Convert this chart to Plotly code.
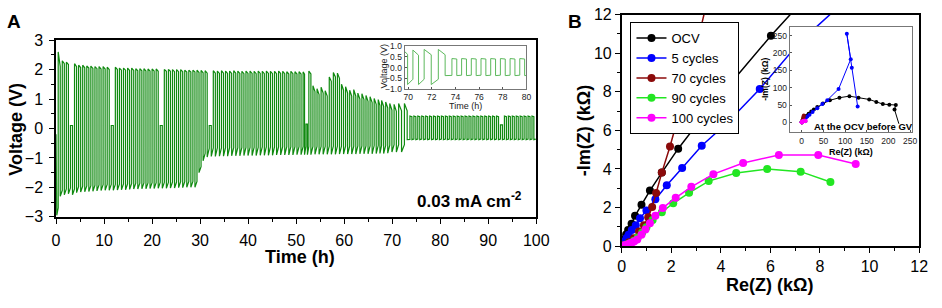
import plotly.graph_objects as go

W, H = 942, 308
FONT = "Liberation Sans, Arial, Helvetica, sans-serif"

# ---------------- Panel A : galvanostatic cycling (voltage vs time) ----------------
init_t = [0.0, 0.15, 0.45]
init_v = [-0.2, -2.95, -2.7]

# region 1 (0-29 h)
r1_t = [0.45, 1.3, 2.15, 3.0, 3.85, 4.7, 5.55, 6.4, 7.25, 8.1, 8.95, 9.8, 10.65, 11.5, 12.35, 13.2, 14.05,
        14.9, 15.75, 16.6, 17.45, 18.3, 19.15, 20.0, 20.85, 21.7, 22.55, 23.4, 24.25, 25.1, 25.95, 26.8, 27.65, 28.5]
r1_hi = [2.6, 2.3, 2.25, 0.1, 2.2, 2.15, 2.15, 2.12, 2.12, 2.1, 2.1, 2.1, 2.08, 0.1, 2.08, 2.05, 2.05,
         2.05, 2.05, 2.03, 2.03, 2.03, 2.02, 2.02, 2.02, 0.1, 2.0, 2.0, 2.0, 2.0, 2.0, 1.98, 1.98, 1.98]
r1_hi_end = [2.1, 2.2, 2.17, 0.1, 2.1, 2.07, 2.06, 2.05, 2.04, 2.03, 2.02, 2.02, 2.0, 0.1, 2.0, 1.98, 1.98,
             1.97, 1.97, 1.96, 1.96, 1.95, 1.95, 1.95, 1.94, 0.1, 1.94, 1.94, 1.93, 1.93, 1.93, 1.92, 1.92, 1.92]
r1_lo = [-2.3, -2.25, -2.22, -2.25, -2.18, -2.16, -2.15, -2.14, -2.13, -2.12, -2.11, -2.1, -2.1, -2.1, -2.09,
         -2.08, -2.08, -2.07, -2.06, -2.06, -2.05, -2.05, -2.04, -2.04, -2.03, -2.03, -2.03, -2.02, -2.02,
         -2.01, -2.01, -2.0, -2.0, -2.0]
r1_lo_end = [-2.1, -2.05, -2.02, -2.05, -1.98, -1.96, -1.95, -1.94, -1.93, -1.92, -1.91, -1.9, -1.9, -1.9,
             -1.89, -1.88, -1.88, -1.87, -1.86, -1.86, -1.85, -1.85, -1.84, -1.84, -1.83, -1.83, -1.83,
             -1.82, -1.82, -1.81, -1.81, -1.8, -1.8, -1.8]

# region 2 (29-73 h)
r2_t = [29.35, 30.2, 31.05, 31.9, 32.75, 33.6, 34.45, 35.3, 36.15, 37.0, 37.85, 38.7, 39.55, 40.4, 41.25,
        42.1, 42.95, 43.8, 44.65, 45.5, 46.35, 47.2, 48.05, 48.9, 49.75, 50.6, 51.45, 52.05, 52.65, 53.5,
        54.35, 55.2, 56.05, 56.9, 57.75, 58.6, 59.45, 60.3, 61.15, 62.0, 62.85, 63.7, 64.55, 65.4, 66.25,
        67.1, 67.8, 68.65, 69.5, 70.4, 71.35, 72.55]
r2_hi = [1.98, 1.97, 1.96, 0.1, 1.96, 1.95, 1.96, 1.95, 1.95, 1.96, 1.95, 1.94, 1.95, 1.95, 1.94, 1.95,
         1.94, 1.95, 1.94, 1.94, 1.95, 1.94, 1.93, 1.94, 1.93, 1.93, 1.92, 0.15, 1.95, 1.45, 1.35, 1.4,
         1.28, 1.75, 1.9, 1.88, 1.5, 1.42, 1.3, 1.32, 1.2, 1.18, 1.12, 1.08, 1.02, 0.98, 0.95, 0.9, 0.85,
         0.82, 0.85, 0.85]
r2_hi_end = [1.9, 1.89, 1.88, 0.1, 1.88, 1.87, 1.88, 1.87, 1.87, 1.88, 1.87, 1.86, 1.87, 1.87, 1.86, 1.87,
             1.86, 1.87, 1.86, 1.86, 1.87, 1.86, 1.85, 1.86, 1.85, 1.85, 1.84, 0.15, 1.85, 1.25, 1.15, 1.2,
             1.1, 1.6, 1.75, 1.7, 1.3, 1.2, 1.1, 1.1, 1.0, 0.98, 0.92, 0.88, 0.82, 0.78, 0.75, 0.7, 0.62,
             0.58, 0.6, 0.6]
r2_lo = [-1.5, -1.1, -0.97, -0.95, -0.95, -0.94, -0.94, -0.94, -0.93, -0.93, -0.93, -0.92, -0.92, -0.92,
         -0.92, -0.91, -0.91, -0.91, -0.91, -0.9, -0.9, -0.9, -0.9, -0.9, -0.89, -0.89, -0.89, -0.89, -0.89,
         -0.88, -0.88, -0.88, -0.88, -0.88, -0.88, -0.87, -0.87, -0.87, -0.87, -0.87, -0.86, -0.86, -0.86,
         -0.86, -0.85, -0.85, -0.85, -0.84, -0.8, -0.8, -0.8, -0.38]
r2_lo_end = [-1.3, -0.85, -0.68, -0.66, -0.66, -0.66, -0.65, -0.65, -0.65, -0.65, -0.64, -0.64, -0.64, -0.64,
             -0.64, -0.63, -0.63, -0.63, -0.63, -0.63, -0.62, -0.62, -0.62, -0.62, -0.62, -0.62, -0.61,
             -0.61, -0.61, -0.61, -0.61, -0.61, -0.6, -0.6, -0.6, -0.6, -0.6, -0.6, -0.6, -0.59, -0.59,
             -0.59, -0.59, -0.58, -0.58, -0.58, -0.58, -0.57, -0.55, -0.55, -0.55, -0.37]

# region 3 (73-100 h)
r3_t = [73.7, 74.52, 75.34, 76.16, 76.98, 77.8, 78.62, 79.44, 80.26, 81.08, 81.9, 82.72, 83.54, 84.36,
        85.18, 86.0, 86.82, 87.64, 88.46, 89.28, 90.1, 90.92, 91.74, 92.56, 93.38, 94.2, 95.02, 95.84,
        96.66, 97.48, 98.3, 99.12]
r3_hi = [0.42, 0.42, 0.42, 0.42, 0.42, 0.42, 0.42, 0.42, 0.42, 0.42, 0.42, 0.42, 0.42, 0.42, 0.42, 0.42,
         0.42, 0.42, 0.42, 0.42, 0.42, 0.42, 0.42, 0.12, 0.42, 0.42, 0.42, 0.42, 0.42, 0.42, 0.42, 0.42]
r3_hi_end = [0.4, 0.4, 0.4, 0.4, 0.4, 0.4, 0.4, 0.4, 0.4, 0.4, 0.4, 0.4, 0.4, 0.4, 0.4, 0.4,
             0.4, 0.4, 0.4, 0.4, 0.4, 0.4, 0.4, 0.12, 0.4, 0.4, 0.4, 0.4, 0.4, 0.4, 0.4, 0.4]
r3_lo = [-0.38, -0.38, -0.38, -0.38, -0.38, -0.38, -0.38, -0.38, -0.38, -0.38, -0.38, -0.38, -0.38, -0.38,
         -0.38, -0.38, -0.38, -0.38, -0.38, -0.38, -0.38, -0.38, -0.38, -0.38, -0.38, -0.38, -0.38, -0.38,
         -0.38, -0.38, -0.38, -0.38]
r3_lo_end = [-0.36, -0.36, -0.36, -0.36, -0.36, -0.36, -0.36, -0.36, -0.36, -0.36, -0.36, -0.36, -0.36,
             -0.36, -0.36, -0.36, -0.36, -0.36, -0.36, -0.36, -0.36, -0.36, -0.36, -0.36, -0.36, -0.36,
             -0.36, -0.36, -0.36, -0.36, -0.36, -0.36]
t_end = 99.9

time_ticks_main = [0, 10, 20, 30, 40, 50, 60, 70, 80, 90, 100]
volt_ticks_main = [-3, -2, -1, 0, 1, 2, 3]
time_ticks_inset = [70, 72, 74, 76, 78, 80]
volt_ticks_inset = [-1.0, -0.5, 0.0, 0.5, 1.0]

# ---------------- Panel B : Nyquist plots (kOhm) ----------------
ocv_re = [0, 0.05, 0.12, 0.18, 0.26, 0.40, 0.54, 0.80, 1.14, 1.62, 2.28, 3.20, 4.44, 6.02, 8.3, 11.5, 16,
          22, 28, 36, 49, 65, 87, 110, 131, 155.6, 172, 187, 202, 217, 214]
ocv_im = [0, 0.1, 0.35, 0.6, 0.83, 1.16, 1.57, 2.14, 2.88, 3.81, 5.05, 6.58, 8.51, 10.9, 14.2, 19, 25,
          31, 37, 44, 54, 63.6, 71, 75.5, 71, 66, 59, 52.7, 51, 50, 37]
c5_re = [0, 0.05, 0.12, 0.2, 0.28, 0.41, 0.57, 0.74, 1.0, 1.36, 1.82, 2.44, 3.23, 4.26, 5.57, 7.2, 9.6,
         13, 18, 25, 36, 47.6, 59, 85, 113, 104, 115.5, 129]
c5_im = [0, 0.1, 0.25, 0.42, 0.59, 0.83, 1.08, 1.44, 1.85, 2.43, 3.15, 4.05, 5.2, 6.39, 8.14, 10.6, 13.4,
         17, 22, 30, 41, 52.7, 64, 96, 182, 255, 157, 46]
c70_re = [0, 0.1, 0.3, 0.5, 0.7, 0.9, 1.07, 1.23, 1.39, 1.62, 1.95, 2.39, 2.95, 3.6, 4.2, 4.8]
c70_im = [0, 0.05, 0.2, 0.4, 0.75, 1.08, 1.49, 2.02, 2.75, 3.81, 5.16, 7.2, 10.0, 13.5, 16.5, 20]
c90_re = [0, 0.08, 0.2, 0.35, 0.5, 0.65, 0.83, 1.0, 1.25, 1.62, 2.08, 2.72, 3.51, 4.62, 5.87, 7.22, 8.42]
c90_im = [0, 0.03, 0.08, 0.16, 0.28, 0.45, 0.7, 0.98, 1.35, 1.76, 2.22, 2.76, 3.37, 3.79, 3.99, 3.86, 3.32]
c100_re = [0, 0.05, 0.12, 0.2, 0.3, 0.4, 0.5, 0.63, 0.8, 0.96, 1.14, 1.36, 1.66, 2.18, 2.81, 3.7, 4.9,
           6.34, 7.93, 9.44]
c100_im = [0, 0.02, 0.04, 0.07, 0.12, 0.17, 0.24, 0.34, 0.59, 0.86, 1.19, 1.57, 1.98, 2.5, 3.07, 3.73,
           4.31, 4.72, 4.72, 4.26]

series_names = ["OCV", "5 cycles", "70 cycles", "90 cycles", "100 cycles"]
series_colors = ["#000000", "#0000ff", "#8b0a0a", "#22e622", "#ff00ff"]
imp_ticks_main = [0, 2, 4, 6, 8, 10, 12]
imp_ticks_inset = [0, 50, 100, 150, 200, 250]

# ---------------- build panel A polyline ----------------
cyc_t = r1_t + r2_t + r3_t
cyc_hi = r1_hi + r2_hi + r3_hi
cyc_hi_end = r1_hi_end + r2_hi_end + r3_hi_end
cyc_lo = r1_lo + r2_lo + r3_lo
cyc_lo_end = r1_lo_end + r2_lo_end + r3_lo_end
assert len(cyc_t) == len(cyc_hi) == len(cyc_hi_end) == len(cyc_lo) == len(cyc_lo_end)

vt = list(init_t)
vv = list(init_v)
nxt = cyc_t[1:] + [t_end]
for t0, t1, hi, hie, lo, loe in zip(cyc_t, nxt, cyc_hi, cyc_hi_end, cyc_lo, cyc_lo_end):
    tm = (t0 + t1) / 2
    vt += [t0, tm, tm, t1]
    vv += [hi, hie, lo, loe]


def fx(p):
    return p / W


def fy(p):
    return 1 - p / H


fig = go.Figure()

# main A
fig.add_trace(go.Scatter(x=vt, y=vv, mode="lines", line=dict(color="#108a10", width=1.2),
                         xaxis="x", yaxis="y", showlegend=False, hoverinfo="skip"))

# main B
series = [(ocv_re, ocv_im), (c5_re, c5_im), (c70_re, c70_im), (c90_re, c90_im), (c100_re, c100_im)]
for (re_, im_), nm, col in zip(series, series_names, series_colors):
    fig.add_trace(go.Scatter(x=re_, y=im_, mode="lines+markers", name=nm,
                             line=dict(color=col, width=1.5), marker=dict(color=col, size=8),
                             xaxis="x2", yaxis="y2"))

# inset A (white background then trace)
insA_x = [69.7, 80.0]
insA_y = [-1.02, 1.02]
fig.add_trace(go.Scatter(x=[insA_x[0], insA_x[1], insA_x[1], insA_x[0], insA_x[0]],
                         y=[insA_y[0], insA_y[0], insA_y[1], insA_y[1], insA_y[0]],
                         fill="toself", fillcolor="white", line=dict(width=0), mode="lines",
                         xaxis="x3", yaxis="y3", showlegend=False, hoverinfo="skip"))
fig.add_trace(go.Scatter(x=vt, y=vv, mode="lines", line=dict(color="#5cb85c", width=1),
                         xaxis="x3", yaxis="y3", showlegend=False, hoverinfo="skip"))

# inset B
insB_x = [-28, 255]
insB_y = [-29, 275]
fig.add_trace(go.Scatter(x=[insB_x[0], insB_x[1], insB_x[1], insB_x[0], insB_x[0]],
                         y=[insB_y[0], insB_y[0], insB_y[1], insB_y[1], insB_y[0]],
                         fill="toself", fillcolor="white", line=dict(width=0), mode="lines",
                         xaxis="x4", yaxis="y4", showlegend=False, hoverinfo="skip"))
for (re_, im_), nm, col in zip(series, series_names, series_colors):
    fig.add_trace(go.Scatter(x=re_, y=im_, mode="lines+markers", showlegend=False,
                             line=dict(color=col, width=1), marker=dict(color=col, size=4),
                             xaxis="x4", yaxis="y4", hoverinfo="skip"))

main_ax = dict(showline=True, linecolor="black", linewidth=1.5, mirror=True, ticks="outside",
               ticklen=5, tickwidth=1.2, tickcolor="black", showgrid=False, zeroline=False,
               tickfont=dict(size=16, color="black", family=FONT))
ins_ax = dict(showline=True, linecolor="#777", linewidth=1, mirror=True, ticks="inside",
              ticklen=2, tickwidth=1, tickcolor="#555", showgrid=False, zeroline=False,
              tickfont=dict(size=8.5, color="#222", family=FONT))

fig.update_layout(
    width=W, height=H, margin=dict(l=0, r=0, t=0, b=0),
    paper_bgcolor="white", plot_bgcolor="rgba(0,0,0,0)",
    font=dict(family=FONT, color="black"),
    xaxis=dict(domain=[fx(53), fx(542)], range=[0, 100], tickvals=time_ticks_main, ticklabelstandoff=3,
               minor=dict(ticks="outside", ticklen=3, dtick=5, tickcolor="black"), anchor="y", **main_ax),
    yaxis=dict(domain=[fy(221), fy(34)], range=[-3, 3], tickvals=volt_ticks_main, ticklabelstandoff=3,
               minor=dict(ticks="outside", ticklen=3, dtick=0.5, tickcolor="black"), anchor="x", **main_ax),
    xaxis2=dict(domain=[fx(629), fx(932)], range=[0, 12], tickvals=imp_ticks_main,
                minor=dict(ticks="outside", ticklen=3, dtick=1, tickcolor="black"), anchor="y2", **main_ax),
    yaxis2=dict(domain=[fy(252), fy(7)], range=[0, 12], tickvals=imp_ticks_main,
                minor=dict(ticks="outside", ticklen=3, dtick=1, tickcolor="black"), anchor="x2", **main_ax),
    xaxis3=dict(domain=[fx(408), fx(532)], range=insA_x, tickvals=time_ticks_inset, anchor="y3", **ins_ax),
    yaxis3=dict(domain=[fy(86), fy(40)], range=insA_y, tickvals=volt_ticks_inset, tickformat=".1f",
                anchor="x3", **ins_ax),
    xaxis4=dict(domain=[fx(800), fx(925)], range=insB_x, tickvals=imp_ticks_inset, anchor="y4", **ins_ax),
    yaxis4=dict(domain=[fy(131.7), fy(20)], range=insB_y, tickvals=imp_ticks_inset, anchor="x4", **ins_ax),
    legend=dict(x=fx(638), y=fy(15), xanchor="left", yanchor="top", bgcolor="white",
                bordercolor="black", borderwidth=1, font=dict(size=13, family=FONT, color="black"),
                tracegroupgap=0, itemwidth=30),
)


def ann(text, x, y, size, bold=True, angle=0, xanchor="center", color="black"):
    fig.add_annotation(text=("<b>%s</b>" % text) if bold else text, x=fx(x), y=fy(y),
                       xref="paper", yref="paper", showarrow=False, textangle=angle,
                       xanchor=xanchor, yanchor="middle",
                       font=dict(size=size, family=FONT, color=color))


ann("A", 10, 14, 19)
ann("B", 581, 14, 19)
ann("Voltage (V)", 12, 128, 18, angle=-90)
ann("Time (h)", 301, 264, 18)
ann("0.03 mA cm<sup>-2</sup>", 530, 203, 17, xanchor="right")
ann("-Im(Z) (k\u03a9)", 590, 130, 18, angle=-90)
ann("Re(Z) (k\u03a9)", 780, 293, 18)
ann("Voltage (V)", 387, 62, 9, bold=False, angle=-90, color="#222")
ann("Time (h)", 470, 104, 9, bold=False, color="#222")
ann("-Im(Z) (k\u03a9)", 775, 76, 8.5, angle=-90)
ann("Re(Z) (k\u03a9)", 863, 152, 9)
ann("At the OCV before GV", 875, 125, 9.5)

fig.add_shape(type="line", xref="x4", yref="y4", x0=ocv_re[-1], y0=ocv_im[-1], x1=224, y1=-4,
              line=dict(color="black", width=1))

fig.write_html("out.html", config={"displayModeBar": False},
               post_script="document.body.style.margin='0px';document.body.style.overflow='hidden';")
